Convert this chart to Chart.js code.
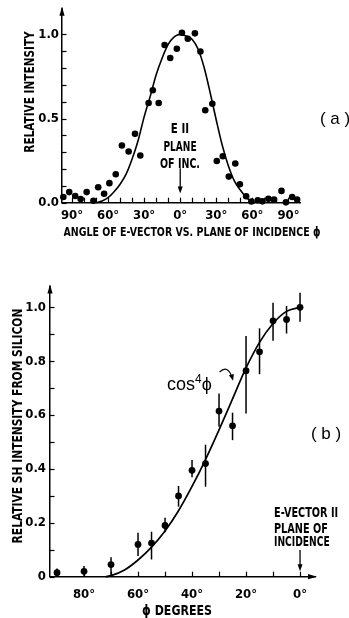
<!DOCTYPE html>
<html>
<head>
<meta charset="utf-8">
<script src="https://cdn.jsdelivr.net/npm/chart.js@4.4.1/dist/chart.umd.min.js"></script>
<style>
  html,body{margin:0;padding:0;background:#fff;}
  body{width:349px;height:618px;position:relative;overflow:hidden;}
  .box{position:absolute;left:0;width:349px;}
  .t{position:absolute;white-space:nowrap;color:#000;line-height:1;
     font-family:'Liberation Sans Narrow','DejaVu Sans Condensed',sans-serif;font-weight:bold;}
  .c{transform-origin:50% 50%;}
  .l{transform-origin:0 50%;}
  .p{font-family:'Liberation Sans','DejaVu Sans',sans-serif;font-weight:normal;}
</style>
</head>
<body>
<div class="box" style="top:0;height:250px"><canvas id="ca"></canvas></div>
<div class="box" style="top:270px;height:348px"><canvas id="cb"></canvas></div>

<!-- panel (a) texts -->
<div class="t c" data-w="121" data-rot="1" style="left:29px;top:92px;font-size:14px">RELATIVE INTENSITY</div>
<div class="t c" data-w="257" style="left:191.5px;top:231px;font-size:13px">ANGLE OF E-VECTOR VS. PLANE OF INCIDENCE ϕ</div>
<div class="t c p" style="left:335px;top:118px;font-size:17px">( a )</div>
<div class="t c" data-w="18" style="left:180px;top:128px;font-size:14px">E II</div>
<div class="t c" data-w="33" style="left:180px;top:146px;font-size:14px">PLANE</div>
<div class="t c" data-w="40" style="left:180px;top:162.5px;font-size:14px">OF INC.</div>

<!-- panel (b) texts -->
<div class="t c" data-w="235" data-rot="1" style="left:17px;top:425.5px;font-size:14px">RELATIVE SH INTENSITY FROM SILICON</div>
<div class="t c" data-w="70" style="left:177px;top:610px;font-size:14px">ϕ DEGREES</div>
<div class="t c p" style="left:326px;top:433px;font-size:17px">( b )</div>
<div class="t l p" style="left:167px;top:383px;font-size:18px">cos<sup style="font-size:12px;vertical-align:7px">4</sup>ϕ</div>
<div class="t l" data-w="64" style="left:274px;top:511.7px;font-size:14px">E-VECTOR II</div>
<div class="t l" data-w="54" style="left:274px;top:527.7px;font-size:14px">PLANE OF</div>
<div class="t l" data-w="56" style="left:274px;top:541.3px;font-size:14px">INCIDENCE</div>

<script>
// ---------- Panel (a): relative intensity vs angle ----------
const anglesA = [-97.2,-92.3,-87.3,-82.8,-77.8,-72.2,-68.2,-63.3,-58.9,-53.6,-48.5,-42.9,-37.6,-33.2,-26.3,-22.8,-17.9,-13.0,-8.3,-2.8,
                 1.4,6.3,12.2,16.8,20.8,26.7,30.4,35.4,40.4,45.8,49.6,54.8,59.2,64.5,68.3,73.3,78.0,84.2,87.9,93.1,97.2];
const intensityA = [0.034,0.063,0.040,0.022,0.063,0.012,0.092,0.053,0.116,0.169,0.340,0.304,0.409,0.280,0.592,0.668,0.592,0.937,0.860,0.915,
                    1.010,0.974,1.006,0.898,0.549,0.588,0.248,0.276,0.155,0.233,0.110,0.038,0.007,0.015,0.008,0.023,0.018,0.070,0.002,0.034,0.018];
const fitAnglesA = [-70,-65,-60,-55,-50,-45,-40,-35,-30,-25,-20,-15,-10,-5,0,5,10,15,20,25,30,35,40,45,50,55,60,62];
const fitValuesA = [0,0.01,0.03,0.065,0.11,0.17,0.26,0.37,0.51,0.63,0.76,0.86,0.94,0.985,1.0,0.99,0.97,0.91,0.80,0.65,0.49,0.34,0.22,0.13,0.075,0.03,0.005,0];
const xLabelEveryA = 30;

// ---------- Panel (b): SH intensity from silicon ----------
const phiB = [90,80,70,60,55,50,45,40,35,30,25,20,15,10,5,0];
const shB = [0.015,0.02,0.045,0.12,0.125,0.19,0.30,0.395,0.42,0.615,0.56,0.765,0.835,0.95,0.955,1.0];
const errLowB = [0.0,0.0,0.006,0.077,0.064,0.165,0.26,0.369,0.334,0.557,0.507,0.606,0.752,0.876,0.903,0.947];
const errHighB = [0.03,0.04,0.072,0.163,0.167,0.219,0.337,0.433,0.49,0.68,0.609,0.894,0.922,1.017,1.005,1.054];
const fitAnglesB = [72,70,65,60,55,50,45,40,35,30,25,20,15,10,5,0];
const fitValuesB = [0,0.004,0.025,0.062,0.11,0.17,0.245,0.335,0.435,0.545,0.66,0.775,0.87,0.94,0.985,1.0];
const xLabelEveryB = 20;

const F = "'Liberation Sans Narrow','DejaVu Sans Condensed',sans-serif";
const BLACK = '#000';

function axisStyle(extra){
  return Object.assign({
    grid:{display:false, drawOnChartArea:false, drawTicks:false},
    border:{display:true, color:BLACK, width:1.5}
  }, extra);
}

function drawArrowHead(ctx, x, y, dir, len, half){
  ctx.beginPath();
  if(dir==='up'){ ctx.moveTo(x,y); ctx.lineTo(x-half,y+len); ctx.lineTo(x+half,y+len); }
  else if(dir==='down'){ ctx.moveTo(x,y); ctx.lineTo(x-half,y-len); ctx.lineTo(x+half,y-len); }
  else if(dir==='right'){ ctx.moveTo(x,y); ctx.lineTo(x-len,y-half); ctx.lineTo(x-len,y+half); }
  ctx.closePath(); ctx.fill();
}

// inward tick marks taken from the scales' own ticks
function inwardTicks(xLen, yLen, yMaxTick){
  return {
    id:'inwardTicks',
    afterDraw(chart){
      const ctx = chart.ctx, a = chart.chartArea, xs = chart.scales.x, ys = chart.scales.y;
      ctx.save(); ctx.strokeStyle = BLACK; ctx.lineWidth = 1.2;
      xs.ticks.forEach(t=>{
        const x = Math.round(xs.getPixelForValue(t.value)) + 0.5;
        ctx.beginPath(); ctx.moveTo(x, a.bottom); ctx.lineTo(x, a.bottom - xLen); ctx.stroke();
      });
      ys.ticks.forEach(t=>{
        if (t.value > yMaxTick + 1e-6) return;
        const y = Math.round(ys.getPixelForValue(t.value)) + 0.5;
        ctx.beginPath(); ctx.moveTo(a.left, y); ctx.lineTo(a.left + yLen, y); ctx.stroke();
      });
      ctx.restore();
    }
  };
}

// axis arrows (decoration)
function axisArrows(rightArrow){
  return {
    id:'axisArrows',
    afterDraw(chart){
      const ctx = chart.ctx, a = chart.chartArea;
      ctx.save(); ctx.fillStyle = BLACK; ctx.strokeStyle = BLACK; ctx.lineWidth = 1.5;
      ctx.beginPath(); ctx.moveTo(a.left, a.top); ctx.lineTo(a.left, a.top-3); ctx.stroke();
      drawArrowHead(ctx, a.left, a.top-4, 'up', 9, 2.6);
      if(rightArrow){
        ctx.beginPath(); ctx.moveTo(a.right, a.bottom); ctx.lineTo(a.right+3, a.bottom); ctx.stroke();
        drawArrowHead(ctx, a.right+4, a.bottom, 'right', 9, 2.6);
      }
      ctx.restore();
    }
  };
}

// annotation arrow pointing down at a data-space x position
function downArrow(xVal, yFrom, yTo){
  return {
    id:'downArrow',
    afterDraw(chart){
      const xs = chart.scales.x, ys = chart.scales.y, ctx = chart.ctx;
      const x = xs.getPixelForValue(xVal), y1 = ys.getPixelForValue(yFrom), y2 = ys.getPixelForValue(yTo);
      ctx.save(); ctx.strokeStyle = BLACK; ctx.fillStyle = BLACK; ctx.lineWidth = 1.3;
      ctx.beginPath(); ctx.moveTo(x,y1); ctx.lineTo(x,y2-4); ctx.stroke();
      drawArrowHead(ctx, x, y2, 'down', 7, 2.5);
      ctx.restore();
    }
  };
}

// ---------------- chart (a) ----------------
new Chart(document.getElementById('ca'), {
  type:'scatter',
  data:{ datasets:[
    { data: anglesA.map((a,i)=>({x:a, y:intensityA[i]})), pointRadius:3.3, pointHoverRadius:3.3,
      backgroundColor:BLACK, borderWidth:0, clip:false, order:1 },
    { data: fitAnglesA.map((a,i)=>({x:a, y:fitValuesA[i]})), showLine:true, pointRadius:0,
      borderColor:BLACK, borderWidth:1.6, cubicInterpolationMode:'monotone', fill:false, clip:false, order:2 }
  ]},
  options:{
    responsive:true, maintainAspectRatio:false, animation:false, devicePixelRatio:1,
    layout:{padding:{left:0, right:49, top:9, bottom:0}},
    plugins:{legend:{display:false}, tooltip:{enabled:false}},
    events:[],
    scales:{
      x: axisStyle({ type:'linear', position:'bottom', min:-98.3, max:99.6,
        afterFit(s){ s.height = 47.3; },
        ticks:{ stepSize:10, includeBounds:false, autoSkip:false, maxRotation:0, padding:5, color:BLACK,
          font:{family:F, size:13, weight:'bold'},
          callback(v){ const r = Math.round(v); return r % xLabelEveryA === 0 ? Math.abs(r)+'°' : ''; } } }),
      y: axisStyle({ min:0, max:1.14,
        afterFit(s){ s.width = 62; },
        ticks:{ stepSize:0.1, includeBounds:false, autoSkip:false, padding:3, color:BLACK,
          font:{family:F, size:13, weight:'bold'},
          callback(v){ const t = Math.round(v*10); return (t % 5 === 0 && t <= 10) ? (t/10).toFixed(1) : ''; } } })
    }
  },
  plugins:[inwardTicks(5, 4.5, 1.0), axisArrows(false), downArrow(0, 0.204, 0.055)]
});

// ---------------- chart (b) ----------------
const errorBars = {
  id:'errorBars',
  beforeDatasetsDraw(chart){
    const xs = chart.scales.x, ys = chart.scales.y, ctx = chart.ctx;
    ctx.save(); ctx.strokeStyle = BLACK; ctx.lineWidth = 1.5;
    phiB.forEach((p,i)=>{
      const x = xs.getPixelForValue(p);
      ctx.beginPath(); ctx.moveTo(x, ys.getPixelForValue(errLowB[i])); ctx.lineTo(x, ys.getPixelForValue(errHighB[i])); ctx.stroke();
    });
    ctx.restore();
  }
};
const curlyArrow = {
  id:'curlyArrow',
  afterDraw(chart){
    const xs = chart.scales.x, ys = chart.scales.y, ctx = chart.ctx;
    const x0 = xs.getPixelForValue(29.8), y0 = ys.getPixelForValue(0.76);
    const xc = xs.getPixelForValue(26.6), yc = ys.getPixelForValue(0.79);
    const x1 = xs.getPixelForValue(25.0), y1 = ys.getPixelForValue(0.735);
    ctx.save(); ctx.strokeStyle = BLACK; ctx.fillStyle = BLACK; ctx.lineWidth = 1.1;
    ctx.beginPath(); ctx.moveTo(x0,y0); ctx.quadraticCurveTo(xc,yc,x1,y1); ctx.stroke();
    const ang = Math.atan2(y1-yc, x1-xc);
    ctx.beginPath(); ctx.moveTo(x1+Math.cos(ang)*2, y1+Math.sin(ang)*2);
    ctx.lineTo(x1+Math.cos(ang+2.6)*5, y1+Math.sin(ang+2.6)*5);
    ctx.lineTo(x1+Math.cos(ang-2.6)*5, y1+Math.sin(ang-2.6)*5);
    ctx.closePath(); ctx.fill();
    ctx.restore();
  }
};

new Chart(document.getElementById('cb'), {
  type:'scatter',
  data:{ datasets:[
    { data: phiB.map((p,i)=>({x:p, y:shB[i]})), pointRadius:3.4, pointHoverRadius:3.4,
      backgroundColor:BLACK, borderWidth:0, clip:false, order:1 },
    { data: fitAnglesB.map((p,i)=>({x:p, y:fitValuesB[i]})), showLine:true, pointRadius:0,
      borderColor:BLACK, borderWidth:1.7, cubicInterpolationMode:'monotone', fill:false, clip:false, order:2 }
  ]},
  options:{
    responsive:true, maintainAspectRatio:false, animation:false, devicePixelRatio:1,
    layout:{padding:{left:0, right:36, top:18.5, bottom:0}},
    plugins:{legend:{display:false}, tooltip:{enabled:false}},
    events:[],
    scales:{
      x: axisStyle({ type:'linear', position:'bottom', reverse:true, min:-4.8, max:92.6,
        afterFit(s){ s.height = 41.3; },
        ticks:{ stepSize:10, includeBounds:false, autoSkip:false, maxRotation:0, padding:10, color:BLACK,
          font:{family:F, size:13, weight:'bold'},
          callback(v){ const r = Math.round(v); return (r % xLabelEveryB === 0 && r <= 80) ? r+'°' : ''; } } }),
      y: axisStyle({ min:0, max:1.07,
        afterFit(s){ s.width = 50; },
        ticks:{ stepSize:0.1, includeBounds:false, autoSkip:false, padding:4, color:BLACK,
          font:{family:F, size:13, weight:'bold'},
          callback(v){ const t = Math.round(v*10); if (t === 0) return '0'; return (t % 2 === 0 && t <= 10) ? (t/10).toFixed(1) : ''; } } })
    }
  },
  plugins:[inwardTicks(5, 4.5, 1.0), axisArrows(true), errorBars, curlyArrow, downArrow(0, 0.099, 0.02)]
});

// fit text widths to the reference
document.querySelectorAll('.t').forEach(el=>{
  const rot = el.dataset.rot ? ' rotate(-90deg)' : '';
  const left = el.classList.contains('l');
  const base = left ? 'translate(0,-50%)' : 'translate(-50%,-50%)';
  let sc = '';
  if (el.dataset.w) sc = ' scaleX(' + (parseFloat(el.dataset.w)/el.offsetWidth).toFixed(4) + ')';
  el.style.transform = base + rot + sc;
});
</script>
</body>
</html>
